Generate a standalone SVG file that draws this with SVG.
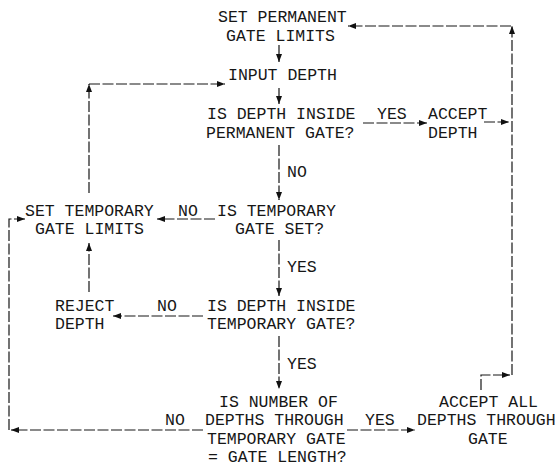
<svg xmlns="http://www.w3.org/2000/svg" width="558" height="469" viewBox="0 0 558 469">
<defs>
<marker id="ah" viewBox="0 0 8 6" refX="8" refY="3" markerWidth="8" markerHeight="6" markerUnits="userSpaceOnUse" orient="auto">
<path d="M0,0 L8,3 L0,6 z" fill="#111"/>
</marker>
<style>
text{font-family:"Liberation Mono","Courier New",monospace;font-size:16.5px;fill:#161616;}
.c path{fill:none;stroke:#161616;stroke-width:1.2;stroke-dasharray:11 2.5;}
.a{marker-end:url(#ah);}
</style>
</defs>
<rect width="558" height="469" fill="#fff"/>
<g id="set-permanent"><text x="218" y="22">SET PERMANENT</text><text x="226" y="41">GATE LIMITS</text></g>
<g id="input-depth"><text x="228" y="80">INPUT DEPTH</text></g>
<g id="inside-permanent"><text x="207" y="119">IS DEPTH INSIDE</text><text x="206" y="138">PERMANENT GATE?</text></g>
<g id="accept-depth"><text x="428" y="119">ACCEPT</text><text x="428" y="138">DEPTH</text></g>
<g id="set-temporary"><text x="25" y="216">SET TEMPORARY</text><text x="35" y="234">GATE LIMITS</text></g>
<g id="temporary-set"><text x="217" y="216">IS TEMPORARY</text><text x="235" y="234">GATE SET?</text></g>
<g id="reject-depth"><text x="55" y="311">REJECT</text><text x="55" y="329">DEPTH</text></g>
<g id="inside-temporary"><text x="207" y="311">IS DEPTH INSIDE</text><text x="207" y="329">TEMPORARY GATE?</text></g>
<g id="number-check"><text x="219" y="407">IS NUMBER OF</text><text x="205" y="425">DEPTHS THROUGH</text><text x="207" y="444">TEMPORARY GATE</text><text x="208" y="462">= GATE LENGTH?</text></g>
<g id="accept-all"><text x="439" y="407">ACCEPT ALL</text><text x="417" y="425">DEPTHS THROUGH</text><text x="468" y="444">GATE</text></g>
<g id="connectors" class="c">
<path class="a" d="M279,45 V62"/>
<path class="a" d="M279,88 V104"/>
<path class="a" d="M363,123 H427"/>
<path class="a" d="M484,122 H509"/>
<path class="a" d="M279,145 V200"/>
<path class="a" d="M215,219 H157"/>
<path class="a" d="M89,193 V84"/>
<path class="a" d="M89,84 H225"/>
<path class="a" d="M279,240 V296"/>
<path class="a" d="M203,316 H113"/>
<path class="a" d="M89,292 V243"/>
<path class="a" d="M279,336 V389"/>
<path class="a" d="M203,430 H11"/>
<path class="a" d="M9,430 V219 H25"/>
<path class="a" d="M347,430 H415"/>
<path class="a" d="M481,390 V375 H510"/>
<path class="a" d="M512,375 V26"/>
<path class="a" d="M511,26 H348"/>
</g>
<g id="labels">
<text x="377" y="119">YES</text>
<text x="287" y="177">NO</text>
<text x="178" y="216">NO</text>
<text x="287" y="272">YES</text>
<text x="157" y="311">NO</text>
<text x="287" y="369">YES</text>
<text x="165" y="425">NO</text>
<text x="365" y="425">YES</text>
</g>
</svg>
